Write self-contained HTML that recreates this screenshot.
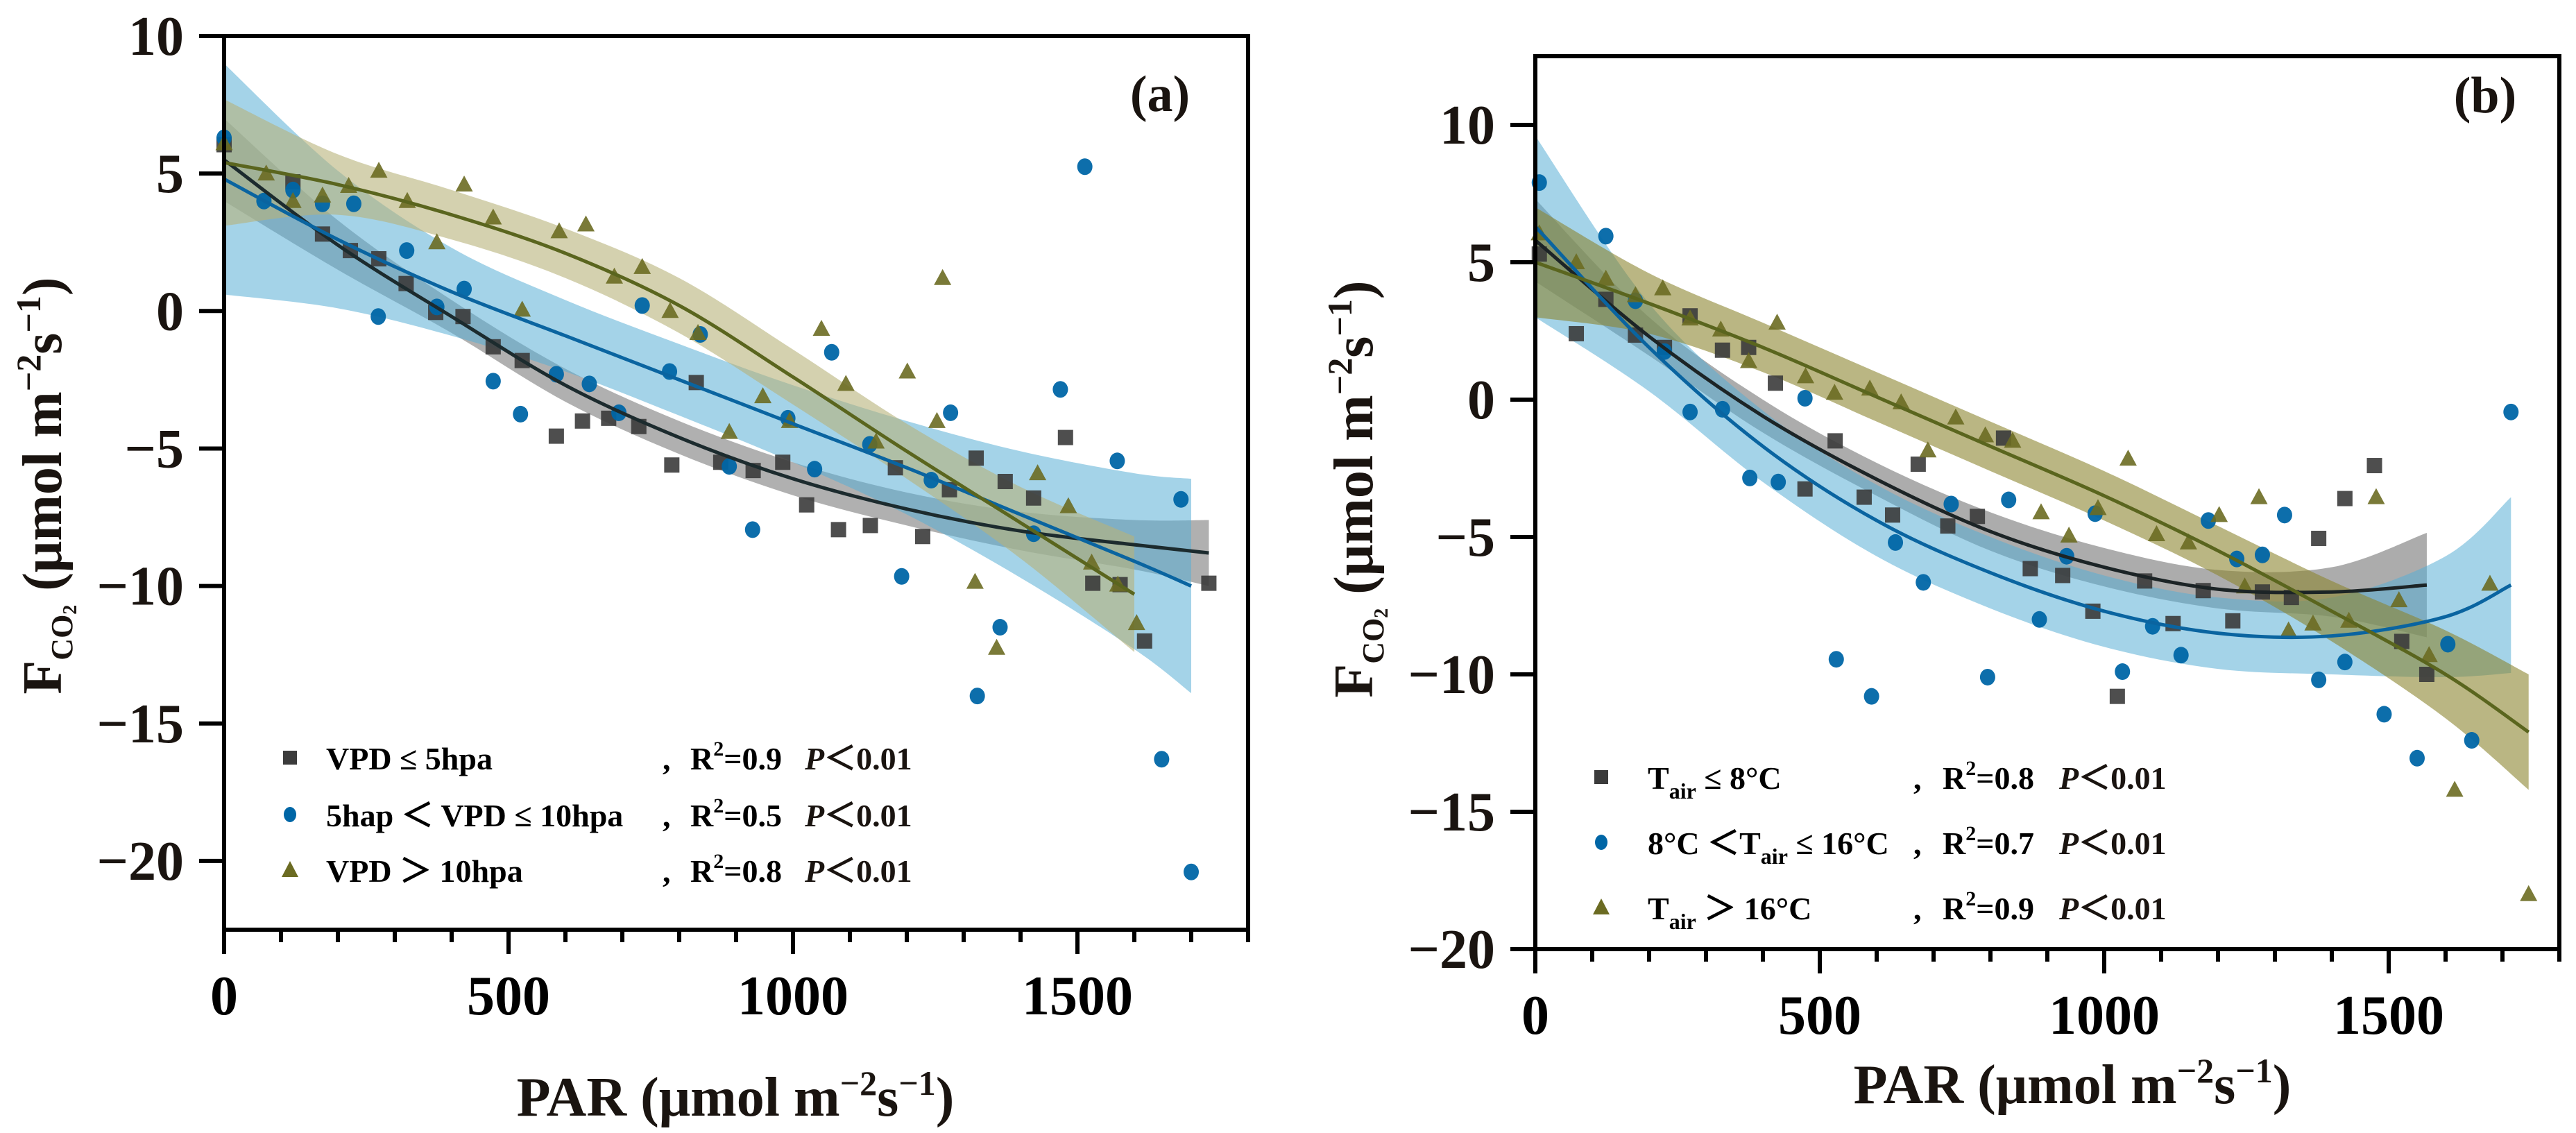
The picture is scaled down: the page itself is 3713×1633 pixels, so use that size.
<!DOCTYPE html>
<html><head><meta charset="utf-8"><style>
html,body{margin:0;padding:0;background:#fff;}
svg{display:block;}
svg text{font-family:"Liberation Serif","Times New Roman",serif;font-weight:bold;}
</style></head><body>
<svg id="fig" width="3713" height="1633" viewBox="0 0 3713 1633" xmlns="http://www.w3.org/2000/svg" font-family="Liberation Serif, serif" font-weight="bold">
<g id="pa"></g>
<g id="pb"></g>
</svg>
<script>
// ---------- Panel (a) data ----------
const aSqX=[0,121,173,222,272,320,372,420,473,524,584,630,676,729,787,830,873,930,982,1024,1080,1136,1180,1228,1275,1322,1373,1423,1479,1527,1575,1618,1731];
const aSqY=[6.05,4.7,2.8,2.2,1.9,1.0,-0.05,-0.2,-1.3,-1.8,-4.55,-4.0,-3.9,-4.2,-5.6,-2.6,-5.5,-5.8,-5.5,-7.05,-7.95,-7.8,-5.7,-8.2,-6.5,-5.35,-6.2,-6.8,-4.6,-9.9,-9.95,-12.0,-9.9];
const aCiX=[0,70,121,173,228,271,321,374,422,473,521,584,642,694,735,783,837,888,929,991,1038,1068,1135,1191,1243,1277,1324,1364,1423,1470,1513,1570,1648,1682,1700];
const aCiY=[6.3,4.0,4.4,3.9,3.9,-0.2,2.2,0.15,0.8,-2.55,-3.75,-2.3,-2.65,-3.7,0.2,-2.2,-0.85,-5.65,-7.95,-3.9,-5.75,-1.5,-4.85,-9.65,-6.15,-3.7,-14.0,-11.5,-8.1,-2.85,5.25,-5.45,-16.3,-6.85,-20.4];
const aTrX=[0,74,121,173,219,272,322,374,422,473,524,589,636,686,735,784,833,888,947,994,1050,1093,1146,1201,1253,1263,1320,1358,1430,1484,1525,1571,1604];
const aTrY=[6.1,5.0,4.0,4.2,4.55,5.1,4.0,2.5,4.6,3.4,0.05,2.9,3.15,1.25,1.6,0.0,-0.8,-4.4,-3.1,-4.0,-0.65,-2.65,-4.75,-2.2,-4.0,1.2,-9.85,-12.25,-5.9,-7.1,-9.15,-9.95,-11.35];
const aFitSqX=[0,200,400,600,800,1000,1200,1400,1600,1731];
const aFitSqY=[5.5,2.4,-0.2,-2.7,-4.6,-6.1,-7.2,-8.0,-8.5,-8.8];
const aBandSq=[1.5,0.9,0.6,0.6,0.6,0.6,0.6,0.7,0.9,1.2];
const aFitCiX=[0,200,400,600,800,1000,1200,1400,1600,1700];
const aFitCiY=[4.8,2.6,0.7,-0.9,-2.5,-4.1,-5.7,-7.4,-9.1,-10.0];
const aBandCi=[4.2,2.5,1.6,1.3,1.3,1.4,1.7,2.3,3.2,3.9];
const aFitTrX=[0,200,400,600,800,1000,1200,1400,1600];
const aFitTrY=[5.4,4.6,3.5,2.1,0.2,-2.4,-5.1,-7.7,-10.3];
const aBandTr=[2.3,1.1,0.9,0.9,1.0,1.0,1.0,1.3,2.1];
const aYTicks=[10,5,0,-5,-10,-15,-20];
const aXTicks=[0,500,1000,1500];

// ---------- Panel (b) data ----------
const bSqX=[7,72,124,176,227,272,329,375,422,474,527,578,628,673,725,777,823,870,927,980,1023,1071,1121,1174,1226,1278,1329,1377,1423,1475,1523,1567];
const bSqY=[5.3,2.4,3.65,2.35,1.9,3.05,1.8,1.9,0.6,-3.25,-1.5,-3.55,-4.2,-2.35,-4.6,-4.25,-1.4,-6.15,-6.4,-7.7,-10.8,-6.6,-8.15,-6.95,-8.05,-7.0,-7.2,-5.05,-3.6,-2.4,-8.8,-10.0];
const bCiX=[7,124,176,227,272,329,377,427,474,529,591,633,682,731,795,832,886,934,984,1032,1085,1135,1183,1233,1278,1317,1377,1423,1492,1550,1604,1646,1715];
const bCiY=[7.9,5.95,3.6,1.75,-0.45,-0.35,-2.85,-3.0,0.05,-9.45,-10.8,-5.2,-6.65,-3.8,-10.1,-3.65,-8.0,-5.7,-4.15,-9.9,-8.25,-9.3,-4.4,-5.8,-5.65,-4.2,-10.2,-9.55,-11.45,-13.05,-8.9,-12.4,-0.45];
const bTrX=[7,72,124,176,224,272,326,375,425,475,526,588,643,690,739,791,839,889,938,989,1042,1092,1148,1202,1247,1272,1324,1367,1430,1478,1518,1571,1616,1678,1746];
const bTrY=[6.05,5.0,4.4,3.8,4.05,2.95,2.55,1.4,2.8,0.85,0.25,0.4,-0.1,-1.85,-0.65,-1.3,-1.5,-4.1,-4.95,-3.95,-2.15,-4.9,-5.2,-4.2,-6.8,-3.55,-8.4,-8.15,-8.05,-3.55,-7.3,-9.3,-14.2,-6.7,-18.0];
const bFitSqX=[0,200,400,600,800,1000,1200,1400,1567];
const bFitSqY=[5.8,2.3,-0.6,-2.9,-4.8,-6.1,-6.9,-7.0,-6.75];
const bBandSq=[1.5,0.7,0.6,0.6,0.7,0.7,0.7,0.9,1.9];
const bFitCiX=[0,200,400,600,800,1000,1200,1400,1600,1715];
const bFitCiY=[6.3,1.9,-1.7,-4.4,-6.3,-7.7,-8.5,-8.6,-7.9,-6.75];
const bBandCi=[3.3,1.6,1.3,1.3,1.3,1.3,1.3,1.4,2.2,3.2];
const bFitTrX=[0,200,400,600,800,1000,1200,1400,1600,1746];
const bFitTrY=[5.0,3.5,1.9,0.1,-1.7,-3.5,-5.5,-7.7,-10.0,-12.1];
const bBandTr=[2.0,1.1,0.9,0.9,0.9,0.9,0.9,1.1,1.6,2.1];
const bYTicks=[10,5,0,-5,-10,-15,-20];
const bXTicks=[0,500,1000,1500];

const NS="http://www.w3.org/2000/svg";
function mk(tag,attrs,parent){const e=document.createElementNS(NS,tag);for(const k in attrs)e.setAttribute(k,attrs[k]);parent.appendChild(e);return e;}
function segs(pts){let d="";for(let i=0;i<pts.length-1;i++){const p0=pts[Math.max(0,i-1)],p1=pts[i],p2=pts[i+1],p3=pts[Math.min(pts.length-1,i+2)];const c1x=p1[0]+(p2[0]-p0[0])/6,c1y=p1[1]+(p2[1]-p0[1])/6,c2x=p2[0]-(p3[0]-p1[0])/6,c2y=p2[1]-(p3[1]-p1[1])/6;d+=" C"+c1x+","+c1y+" "+c2x+","+c2y+" "+p2[0]+","+p2[1];}return d;}
function smooth(pts){return "M"+pts[0][0]+","+pts[0][1]+segs(pts);}

function panel(g,cfg){
  const X=v=>cfg.x0+v*cfg.kx, Y=v=>cfg.yTopPx-(v-cfg.yTop)*cfg.ky;
  const L=cfg.x0, R=X(1800), T=Y(cfg.yTop), B=Y(cfg.yBot);
  cfg.series.forEach(s=>{
    const up=s.fx.map((x,i)=>[X(x),Y(s.fy[i]+s.bw[i])]);
    const lo=s.fx.map((x,i)=>[X(x),Y(s.fy[i]-s.bw[i])]).reverse();
    const d=smooth(up)+" L"+lo[0][0]+","+lo[0][1]+segs(lo)+" Z";
    const p=mk("path",{d:d,fill:s.band,"fill-opacity":s.bop,stroke:"none"},g);
    
    
  });
  cfg.series.forEach(s=>{
    const pg=mk("g",{},g);
    
    
    s.px.forEach((x,i)=>{
      const cx=X(x),cy=Y(s.py[i]);let e;
      if(s.shape==="sq") e=mk("rect",{x:cx-11,y:cy-11,width:22,height:22,fill:s.col,"fill-opacity":0.9},pg);
      else if(s.shape==="ci") e=mk("ellipse",{cx:cx,cy:cy,rx:11,ry:12,fill:s.col,"fill-opacity":0.95},pg);
      else e=mk("polygon",{points:(cx)+","+(cy-13)+" "+(cx-12.5)+","+(cy+10)+" "+(cx+12.5)+","+(cy+10),fill:s.col,"fill-opacity":0.9},pg);
      
      
    });
  });
  cfg.series.forEach(s=>{
    const l=mk("path",{d:smooth(s.fx.map((x,i)=>[X(x),Y(s.fy[i])])),fill:"none",stroke:s.line,"stroke-width":5},g);
    
    
  });
  const fr=mk("rect",{x:L,y:T,width:R-L,height:B-T,fill:"none",stroke:"#000","stroke-width":6},g);
  
  
  for(let v=0;v<=1800;v+=100){
    const major=v%500===0;
    const t=mk("line",{x1:X(v),x2:X(v),y1:B,y2:B+(major?35:18),stroke:"#000","stroke-width":6},g);
    
    
  }
  cfg.xt.forEach(v=>{
    const t=mk("text",{x:X(v),y:B+122,"font-size":80,"text-anchor":"middle",fill:"#000"},g);t.textContent=String(v);
    
    
  });
  cfg.yt.forEach(v=>{
    const t=mk("line",{x1:L-36,x2:L,y1:Y(v),y2:Y(v),stroke:"#000","stroke-width":6},g);
    
    
    const s=mk("text",{x:L-58,y:Y(v)+27,"font-size":80,"text-anchor":"end",fill:"#1a1410"},g);s.textContent=(v<0?"\u2212":"")+Math.abs(v);
    
    
  });
  const xt=mk("text",{x:cfg.xtx,y:B+cfg.xtdy,"font-size":80,"text-anchor":"middle",fill:"#1a1410"},g);
  xt.innerHTML='PAR (μmol m<tspan dy="-30" font-size="50">−2</tspan><tspan dy="30">s</tspan><tspan dy="-30" font-size="50">−1</tspan><tspan dy="30">)</tspan>';
  
  
  const yt=mk("text",{x:0,y:0,"font-size":80,"text-anchor":"middle",fill:"#1a1410",transform:"translate("+cfg.ytx+","+cfg.yty+") rotate(-90)"},g);
  yt.innerHTML='F<tspan dy="16" font-size="44">CO</tspan><tspan dy="6" font-size="28">2</tspan><tspan dy="-22"> (μmol m</tspan><tspan dy="-30" font-size="50">−2</tspan><tspan dy="30">s</tspan><tspan dy="-30" font-size="50">−1</tspan><tspan dy="30">)</tspan>';
  
  
  const pl=mk("text",{x:cfg.plx,y:cfg.ply,"font-size":74,"text-anchor":"middle",fill:"#1a1410"},g);pl.textContent=cfg.label;
  
  
  cfg.series.forEach((s,i)=>{
    const lg=mk("g",{},g);
    
    
    const cy=cfg.legY[i], mx=cfg.legMX;
    if(s.shape==="sq") mk("rect",{x:mx-10,y:cy-13,width:20,height:20,fill:s.col},lg);
    else if(s.shape==="ci") mk("ellipse",{cx:mx,cy:cy-3,rx:9,ry:11,fill:s.col},lg);
    else mk("polygon",{points:mx+","+(cy-16)+" "+(mx-12)+","+(cy+7)+" "+(mx+12)+","+(cy+7),fill:s.col},lg);
    const t=mk("text",{x:cfg.legTX,y:cy+14,"font-size":46,fill:"#000"},lg);t.innerHTML=s.leg;
    const c=mk("text",{x:cfg.legCX,y:cy+14,"font-size":46,fill:"#000"},lg);c.textContent=",";
    const r=mk("text",{x:cfg.legRX,y:cy+14,"font-size":46,fill:"#000"},lg);r.innerHTML='R<tspan dy="-20" font-size="30">2</tspan><tspan dy="20">='+s.r2+'</tspan>';
    const p=mk("text",{x:cfg.legPX,y:cy+14,"font-size":46,fill:"#1a1410"},lg);p.innerHTML='<tspan font-style="italic">P</tspan>＜0.01';
  });
}

panel(document.getElementById('pa'),{
  x0:323,kx:0.82,yTopPx:52,yTop:10,yBot:-22.5,ky:39.63,xt:aXTicks,yt:aYTicks,
  xtx:1060,xtdy:268,ytx:88,yty:700,plx:1672,ply:160,label:"(a)",
  legY:[1095,1177,1257],legMX:418,legTX:470,legCX:955,legRX:995,legPX:1160,
  series:[
    {name:"vpd-low",shape:"sq",col:"#3b3b3b",line:"#1c2b2e",band:"#7c7c7c",bop:0.6,px:aSqX,py:aSqY,fx:aFitSqX,fy:aFitSqY,bw:aBandSq,leg:"VPD ≤ 5hpa",r2:"0.9"},
    {name:"vpd-mid",shape:"ci",col:"#0066a6",line:"#0a64a0",band:"#5aaed6",bop:0.55,px:aCiX,py:aCiY,fx:aFitCiX,fy:aFitCiY,bw:aBandCi,leg:"5hap ＜ VPD ≤ 10hpa",r2:"0.5"},
    {name:"vpd-high",shape:"tr",col:"#6b6b22",line:"#5a651e",band:"#b8b27a",bop:0.6,px:aTrX,py:aTrY,fx:aFitTrX,fy:aFitTrY,bw:aBandTr,leg:"VPD ＞ 10hpa",r2:"0.8"}
  ]});
panel(document.getElementById('pb'),{
  x0:2213,kx:0.82,yTopPx:81,yTop:12.5,yBot:-20,ky:39.6,xt:bXTicks,yt:bYTicks,
  xtx:2987,xtdy:222,ytx:1978,yty:705,plx:3582,ply:162,label:"(b)",
  legY:[1123,1217,1311],legMX:2308,legTX:2375,legCX:2758,legRX:2800,legPX:2968,
  series:[
    {name:"tair-low",shape:"sq",col:"#3b3b3b",line:"#1c2426",band:"#808080",bop:0.65,px:bSqX,py:bSqY,fx:bFitSqX,fy:bFitSqY,bw:bBandSq,leg:'T<tspan dy="14" font-size="32">air</tspan><tspan dy="-14"> ≤ 8°C</tspan>',r2:"0.8"},
    {name:"tair-mid",shape:"ci",col:"#0066a6",line:"#0a64a0",band:"#5aaed6",bop:0.55,px:bCiX,py:bCiY,fx:bFitCiX,fy:bFitCiY,bw:bBandCi,leg:'8°C ＜T<tspan dy="14" font-size="32">air</tspan><tspan dy="-14"> ≤ 16°C</tspan>',r2:"0.7"},
    {name:"tair-high",shape:"tr",col:"#6b6b22",line:"#5a651e",band:"#8c8530",bop:0.6,px:bTrX,py:bTrY,fx:bFitTrX,fy:bFitTrY,bw:bBandTr,leg:'T<tspan dy="14" font-size="32">air</tspan><tspan dy="-14"> ＞ 16°C</tspan>',r2:"0.9"}
  ]});
</script>
</body></html>
